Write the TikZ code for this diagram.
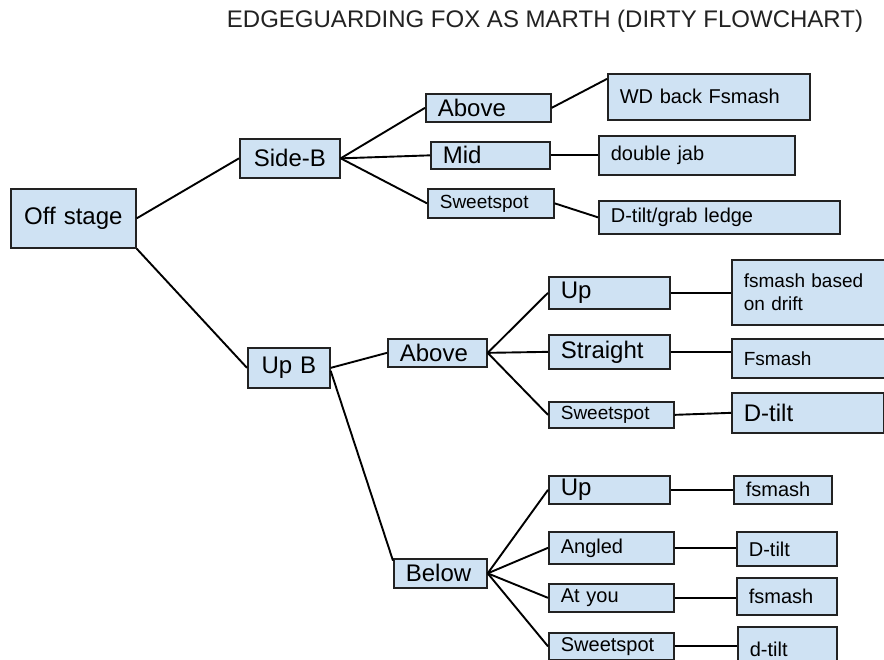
\documentclass[tikz,border=0pt]{standalone}
\usepackage{fontspec}
\setmainfont{Liberation Sans}
\usetikzlibrary{positioning}
\definecolor{celeste}{HTML}{CFE2F3}
\definecolor{borde}{HTML}{222222}

\begin{document}
\begin{tikzpicture}[x=1pt,y=-1pt,
  b/.style={draw=borde,line width=1.7,fill=celeste,anchor=north west,inner xsep=12,inner ysep=0,align=left},
  c/.style={b,inner xsep=4,align=center},
  tbig/.style={font=\fontsize{24}{27}\selectfont},
  tmed/.style={font=\fontsize{20}{23}\selectfont},
  tsml/.style={font=\fontsize{19}{23}\selectfont},
  l/.style={draw=black,line width=1.9}]
\useasboundingbox (0,0) rectangle (884,660);
\node[tbig,text=borde] (titulo) at (545,21) {EDGEGUARDING FOX AS MARTH (DIRTY FLOWCHART)};
% raiz y primer nivel
\node[c,tbig,minimum height=59,text width=117] (off) at (10,188) {Off stage};
\node[c,tbig,minimum height=39,text width=92] (sideb) at (239,138) {Side-B};
\node[c,tbig,minimum height=40,text width=74] (upb) at (247,347) {Up B};
% side-b
\node[b,tbig,minimum height=28,text width=101] (ab1) at (425,93) {Above};
\node[b,tbig,minimum height=27,text width=95] (mid) at (430,141) {Mid};
\node[b,tsml,minimum height=29,text width=102] (sw1) at (427,188) {Sweetspot};
\node[b,tmed,minimum height=46,text width=178] (wd) at (607,73) {WD back Fsmash};
\node[b,tmed,minimum height=39,text width=172] (dj) at (598,135) {double jab};
\node[b,tmed,minimum height=33,text width=217] (dg) at (598,200) {D-tilt/grab ledge};
% up b, arriba
\node[b,tbig,minimum height=28,text width=75] (ab2) at (387,338) {Above};
\node[b,tbig,minimum height=32,text width=97] (up1) at (548,276) {Up};
\node[b,tbig,minimum height=34,text width=97] (st) at (548,334) {Straight};
\node[b,tsml,minimum height=26,text width=101] (sw2) at (548,401) {Sweetspot};
\node[b,tsml,minimum height=65,text width=150] (fd) at (731,259) {fsmash based\\on drift};
\node[b,tsml,minimum height=39,text width=150] (fs1) at (731,338) {Fsmash};
\node[b,tbig,minimum height=40,text width=128] (dt1) at (731,392) {D-tilt};
% up b, abajo
\node[b,tbig,minimum height=29,text width=69] (below) at (393,558) {Below};
\node[b,tbig,minimum height=28,text width=97] (up2) at (548,475) {Up};
\node[b,tmed,minimum height=32,text width=101] (ang) at (548,531) {Angled};
\node[b,tmed,minimum height=28,text width=101] (aty) at (548,583) {At you};
\node[b,tmed,minimum height=27,text width=101] (sw3) at (548,632) {Sweetspot};
\node[b,tmed,minimum height=28,text width=74] (fs2) at (733,475) {fsmash};
\node[b,tmed,minimum height=34,text width=76] (dt2) at (736,531) {D-tilt};
\node[b,tmed,minimum height=37,text width=76] (fs3) at (736,577) {fsmash};
\node[b,tmed,minimum height=44,text width=75] (dt3) at (737,626) {d-tilt};
% conectores
\draw[l] (off.east) -- (sideb.west);
\draw[l] (off.south east) -- (upb.west);
\draw[l] (sideb.east) -- (ab1.west);
\draw[l] (sideb.east) -- (mid.west);
\draw[l] (sideb.east) -- (sw1.west);
\draw[l] (ab1.east) -- (wd.170);
\draw[l] (mid.east) -- (mid.east -| dj.west);
\draw[l] (sw1.east) -- (dg.west);
\draw[l] (upb.east) -- (ab2.west);
\draw[l] ([yshift=-3]upb.east) -- (below.165);
\draw[l] (ab2.east) -- (up1.west);
\draw[l] (ab2.east) -- (st.west);
\draw[l] (ab2.east) -- (sw2.west);
\draw[l] (up1.east) -- (up1.east -| fd.west);
\draw[l] (st.east) -- (st.east -| fs1.west);
\draw[l] (sw2.east) -- (dt1.west);
\draw[l] (below.east) -- (up2.west);
\draw[l] (below.east) -- (ang.west);
\draw[l] (below.east) -- (aty.west);
\draw[l] (below.east) -- (sw3.west);
\draw[l] (up2.east) -- (up2.east -| fs2.west);
\draw[l] (ang.east) -- (ang.east -| dt2.west);
\draw[l] (aty.east) -- (aty.east -| fs3.west);
\draw[l] (sw3.east) -- (sw3.east -| dt3.west);
\end{tikzpicture}
\end{document}
